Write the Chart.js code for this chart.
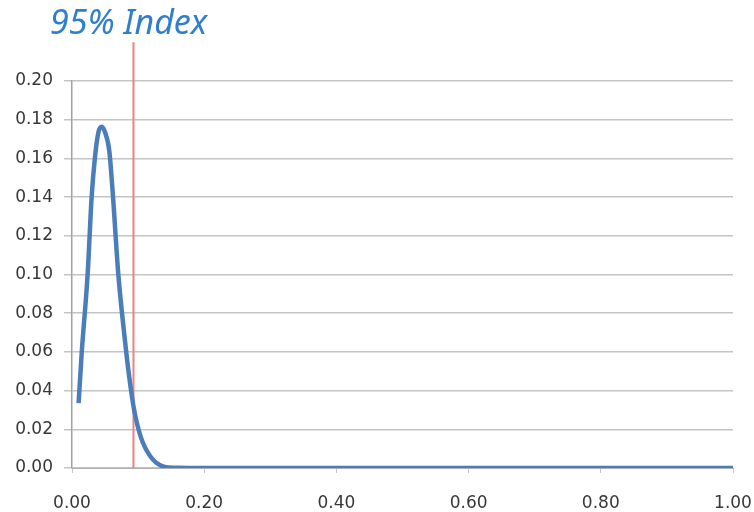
<!DOCTYPE html>
<html>
<head>
<meta charset="utf-8">
<script src="https://cdn.jsdelivr.net/npm/chart.js@4.4.0/dist/chart.umd.min.js"></script>
<style>
    html, body { margin: 0; padding: 0; background: #ffffff; }
    #chart { display: block; }
</style>
</head>
<body>
<canvas id="chart" width="754" height="512"></canvas>
<script>
// 曲线数据
const curveX = [0.010, 0.0146, 0.0237, 0.0297, 0.0347, 0.040, 0.045, 0.050, 0.0564, 0.0614,
    0.070, 0.079, 0.0866, 0.094, 0.104, 0.119, 0.139, 0.16, 0.20, 0.30, 0.40, 0.50, 0.60,
    0.70, 0.80, 0.90, 1.00];
const curveY = [0.0335, 0.0591, 0.1004, 0.140, 0.1605, 0.1735, 0.1763, 0.1735, 0.164, 0.1433,
    0.1004, 0.0694, 0.047, 0.030, 0.0161, 0.0058, 0.0007, 0.0001, 0, 0, 0, 0, 0,
    0, 0, 0, 0];

// 95% 分位线
const indexX = [0.093, 0.093];
const indexY = [0, 0.22];

// 坐标轴刻度
const xMin = 0, xMax = 1, xStep = 0.2;
const yMin = 0, yMax = 0.2, yStep = 0.02;

const titleText = '95% Index';

/**
 * 左上角标题
 */
const titlePlugin = {
    id: 'cornerTitle',
    afterDraw(chart) {
        const ctx = chart.ctx;
        ctx.save();
        ctx.font = 'italic 34px "Noto Sans"';
        ctx.fillStyle = '#2f7fcc';
        ctx.textBaseline = 'middle';
        ctx.fillText(titleText, chart.chartArea.left - 22, 24);
        ctx.restore();
    }
};

const tickFont = { family: 'DejaVu Sans', size: 17 };

new Chart(document.getElementById('chart'), {
    type: 'scatter',
    data: {
        datasets: [
            {
                label: 'curve',
                data: curveX.map((x, i) => ({ x: x, y: curveY[i] })),
                showLine: true,
                borderColor: '#4a7ebb',
                borderWidth: 4.5,
                pointRadius: 0,
                cubicInterpolationMode: 'monotone',
                order: 1
            },
            {
                label: '95% Index',
                data: indexX.map((x, i) => ({ x: x, y: indexY[i] })),
                showLine: true,
                borderColor: '#f08080',
                borderWidth: 2,
                pointRadius: 0,
                clip: false,
                order: 2
            }
        ]
    },
    plugins: [titlePlugin],
    options: {
        responsive: false,
        animation: false,
        layout: {
            padding: { top: 81, left: 14, right: 21, bottom: 0 }
        },
        plugins: {
            legend: { display: false },
            tooltip: { enabled: false }
        },
        scales: {
            x: {
                type: 'linear',
                min: xMin,
                max: xMax,
                afterFit: scale => {
                    scale.height = 44;
                    scale.paddingLeft = 0;
                    scale.paddingRight = 0;
                },
                ticks: {
                    stepSize: xStep,
                    padding: 20,
                    color: '#383838',
                    font: tickFont,
                    maxRotation: 0,
                    callback: v => v.toFixed(2)
                },
                grid: {
                    drawOnChartArea: false,
                    drawTicks: true,
                    tickLength: 5,
                    color: '#c8c8c8'
                },
                border: { color: '#b0b0b0', width: 1 }
            },
            y: {
                min: yMin,
                max: yMax,
                afterFit: scale => { scale.width = 58; },
                ticks: {
                    stepSize: yStep,
                    padding: 11,
                    color: '#383838',
                    font: tickFont,
                    callback: v => v.toFixed(2)
                },
                grid: {
                    color: '#c4c4c4',
                    lineWidth: 1.5,
                    tickLength: 8
                },
                border: { color: '#a0a0a0', width: 1.5 }
            }
        }
    }
});
</script>
</body>
</html>
